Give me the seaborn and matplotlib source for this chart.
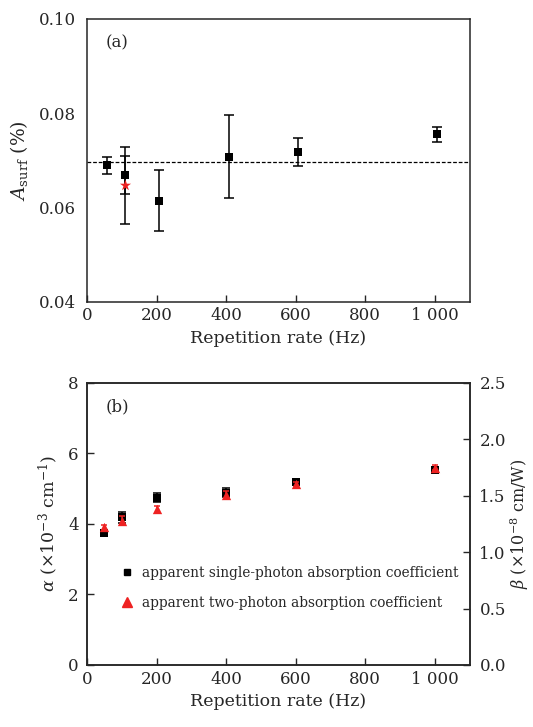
import numpy as np
import pandas as pd
import matplotlib
matplotlib.use("Agg")
import matplotlib.pyplot as plt
import seaborn as sns
from matplotlib.ticker import FuncFormatter, FixedLocator
from matplotlib.lines import Line2D

# ---- data: panel (a) ----
rate_a = [58, 110, 208, 408, 606, 1005]
asurf = [0.0689, 0.0669, 0.0614, 0.0708, 0.0717, 0.0755]
asurf_err = [0.0017, 0.0041, 0.0065, 0.0088, 0.0030, 0.0016]
star_rate = [110]
star_val = [0.0647]
star_err = [0.0082]
asurf_mean = 0.0697

# ---- data: panel (b) ----
rate_b = [50, 100, 200, 400, 600, 1000]
alpha = [3.75, 4.19, 4.74, 4.89, 5.20, 5.53]
alpha_err = [0.08, 0.15, 0.13, 0.13, 0.08, 0.07]
beta = [1.22, 1.28, 1.38, 1.51, 1.60, 1.75]
beta_err = [0.02, 0.04, 0.03, 0.03, 0.02, 0.02]

x_ticks = [0, 200, 400, 600, 800, 1000]

sns.set_style("ticks")
plt.rcParams['font.family'] = ['DejaVu Serif']
plt.rcParams['mathtext.fontset'] = 'dejavuserif'
plt.rcParams['xtick.direction'] = 'in'
plt.rcParams['ytick.direction'] = 'in'

FS = 12
LFS = 12.5
RED = '#ee2222'
fig = plt.figure(figsize=(5.33, 7.27), dpi=100)
ax1 = fig.add_axes([0.1632, 0.585, 0.718, 0.389])
ax2 = fig.add_axes([0.1632, 0.0853, 0.718, 0.388])

def kfmt(v, pos):
    v = int(round(v))
    return f"{v:,}".replace(",", " ")

# ---- panel (a) ----
dfa = pd.DataFrame({"rate": rate_a, "A": asurf})
ax1.errorbar(rate_a, asurf, yerr=asurf_err, fmt='none', ecolor='black',
             elinewidth=1.1, capsize=3.5, capthick=1.1, zorder=2)
ax1.errorbar(star_rate, star_val, yerr=star_err, fmt='none', ecolor='black',
             elinewidth=1.1, capsize=3.5, capthick=1.1, zorder=2)
sns.scatterplot(data=dfa, x="rate", y="A", marker='s', color='black', s=30,
                edgecolor='black', linewidth=0, ax=ax1, zorder=3, legend=False)
sns.scatterplot(x=star_rate, y=star_val, marker='*', color=RED, s=70,
                edgecolor=RED, linewidth=0, ax=ax1, zorder=4, legend=False)
ax1.axhline(asurf_mean, color='black', linestyle=(0, (3, 1.5)), linewidth=0.9, zorder=1)
ax1.set_xlim(0, 1100)
ax1.set_ylim(0.04, 0.10)
ax1.xaxis.set_major_locator(FixedLocator(x_ticks))
ax1.xaxis.set_major_formatter(FuncFormatter(kfmt))
ax1.set_yticks([0.04, 0.06, 0.08, 0.10])
ax1.yaxis.set_major_formatter(FuncFormatter(lambda v, p: f"{v:.2f}"))
ax1.tick_params(axis='x', length=5, width=1, labelsize=FS, pad=4)
ax1.tick_params(axis='y', length=0, labelsize=FS, pad=8)
ax1.set_xlabel("Repetition rate (Hz)", fontsize=LFS, labelpad=4)
ax1.set_ylabel(r"$A_{\mathrm{surf}}$ (%)", fontsize=LFS + 1, labelpad=6)
ax1.text(0.05, 0.915, "(a)", transform=ax1.transAxes, fontsize=FS, va='center')
for sp in ax1.spines.values():
    sp.set_linewidth(1.1)

# ---- panel (b) ----
ax3 = ax2.twinx()
ax2.errorbar(rate_b, alpha, yerr=alpha_err, fmt='none', ecolor='black',
             elinewidth=1.1, capsize=3, capthick=1.1, zorder=2)
sns.scatterplot(x=rate_b, y=alpha, marker='s', color='black', s=34,
                edgecolor='black', linewidth=0, ax=ax2, zorder=3, legend=False)
ax3.errorbar(rate_b, beta, yerr=beta_err, fmt='none', ecolor=RED,
             elinewidth=1.1, capsize=2.5, capthick=1.1, zorder=2)
sns.scatterplot(x=rate_b, y=beta, marker='^', color=RED, s=45,
                edgecolor=RED, linewidth=0, ax=ax3, zorder=3, legend=False)
ax2.set_xlim(0, 1100)
ax2.set_ylim(0, 8)
ax3.set_ylim(0, 2.5)
ax2.xaxis.set_major_locator(FixedLocator(x_ticks))
ax2.xaxis.set_major_formatter(FuncFormatter(kfmt))
ax2.set_yticks([0, 2, 4, 6, 8])
ax3.set_yticks([0, 0.5, 1.0, 1.5, 2.0, 2.5])
ax3.yaxis.set_major_formatter(FuncFormatter(lambda v, p: f"{v:.1f}"))
ax2.tick_params(axis='x', length=5, width=1, labelsize=FS, pad=4)
ax2.tick_params(axis='y', length=5, width=1, labelsize=FS, pad=6)
ax3.tick_params(axis='y', length=5, width=1, labelsize=FS, pad=7)
ax2.set_xlabel("Repetition rate (Hz)", fontsize=LFS, labelpad=4)
ax2.set_ylabel(r"$\alpha$ ($\times$10$^{-3}$ cm$^{-1}$)", fontsize=LFS, labelpad=6)
ax3.set_ylabel(r"$\beta$ ($\times$10$^{-8}$ cm/W)", fontsize=11.5, labelpad=2)
ax2.text(0.05, 0.915, "(b)", transform=ax2.transAxes, fontsize=FS, va='center')
for a in (ax2, ax3):
    for sp in a.spines.values():
        sp.set_linewidth(1.1)

handles = [Line2D([], [], marker='s', color='black', linestyle='none', markersize=5),
           Line2D([], [], marker='^', color=RED, linestyle='none', markersize=6.5)]
labels = ["apparent single-photon absorption coefficient",
          "apparent two-photon absorption coefficient"]
ax3.legend(handles, labels, loc='upper left', bbox_to_anchor=(0.075, 0.371),
           frameon=False, fontsize=9.8, handlelength=0.8, handletextpad=0.7,
           labelspacing=1.2, borderaxespad=0)

fig.savefig("out.png", dpi=100)
